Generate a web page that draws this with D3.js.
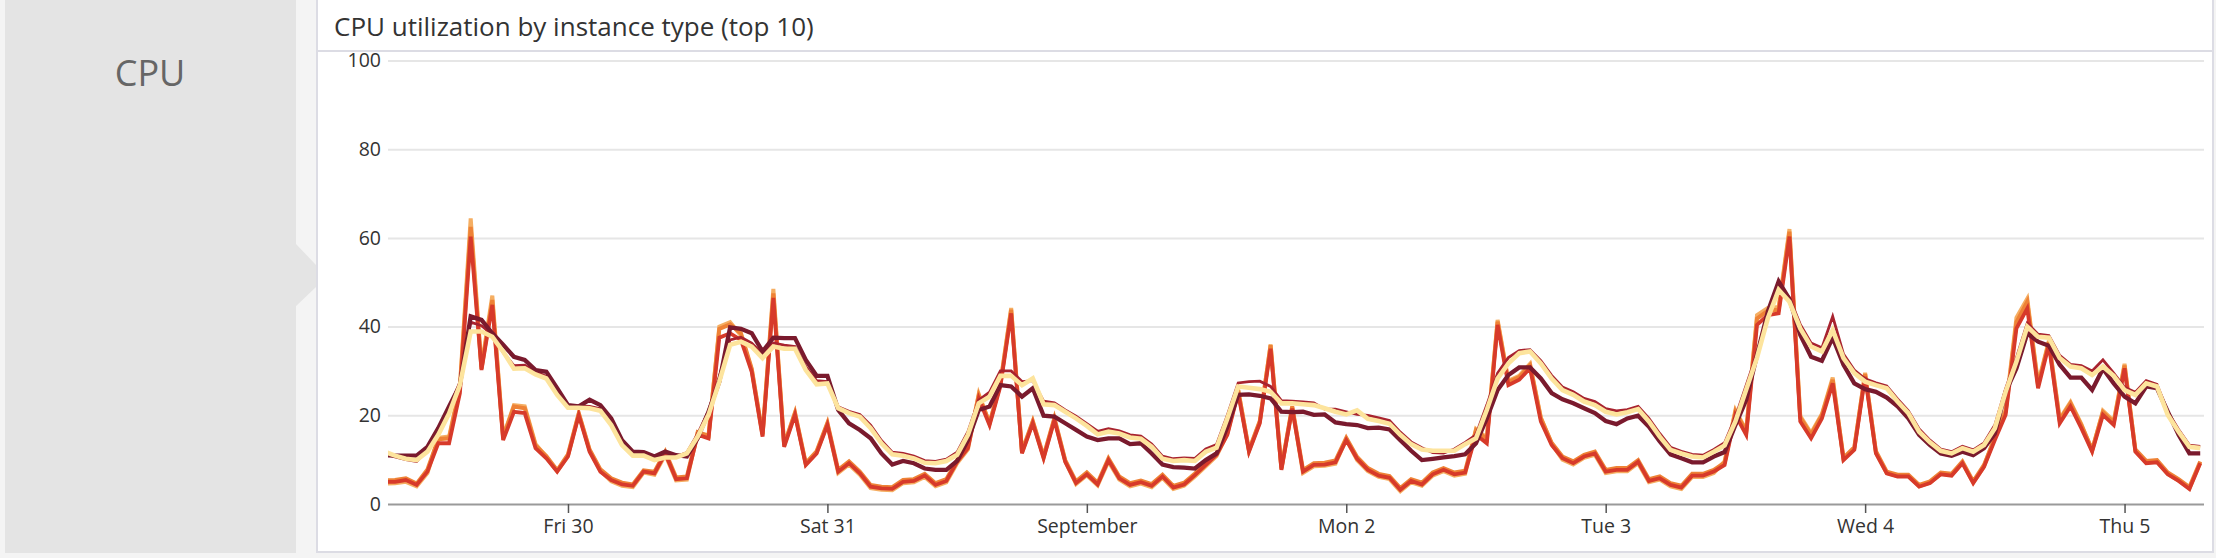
<!DOCTYPE html>
<html>
<head>
<meta charset="utf-8">
<script src="https://cdn.jsdelivr.net/npm/d3@7"></script>
<style>
  html, body { margin: 0; padding: 0; background: #f4f4f4; }
  svg { display: block; font-family: "Open Sans", sans-serif; }
</style>
</head>
<body>
<svg id="chart" width="2216" height="558"></svg>
<script>
// ---------------- data ----------------
// hourly samples, starting Thu 29 Aug 2019 07:00, 169 points
const startHour = new Date(2019, 7, 29, 7, 0);
const domainStart = new Date(2019, 7, 29, 7, 21);
const domainEnd = new Date(2019, 8, 5, 7, 21);

const tickDates = [
  new Date(2019, 7, 30), new Date(2019, 7, 31), new Date(2019, 8, 1),
  new Date(2019, 8, 2), new Date(2019, 8, 3), new Date(2019, 8, 4), new Date(2019, 8, 5)
];
const tickLabels = ["Fri 30", "Sat 31", "September", "Mon 2", "Tue 3", "Wed 4", "Thu 5"];
const yTicks = [0, 20, 40, 60, 80, 100];

const seriesNames = ["t2.lightorange", "t2.orange", "t2.red", "m5.crimson", "m5.maroon", "c5.yellow"];
const seriesColors = ["#f5ae62", "#ee8236", "#d73a2a", "#a8232f", "#7a1a2d", "#fde49d"];

const lightOrange = [4.6,4.7,5.0,4.0,7.0,14.9,15.2,26.5,64.4,31,47,15.2,22.3,22,13.5,10.6,7.4,
10.9,20.3,12.1,7.5,5.1,4.1,3.8,7.1,6.6,11.1,5.3,5.5,16,15.2,40,41,38,30.2,15.5,48.5,13.2,20.4,9.0,11.6,18.1,
7.0,8.9,6.6,3.6,3.2,3.1,4.7,4.9,6.1,4.0,4.9,9.2,12.3,24.8,18.1,27.2,44.2,11.6,18.5,10.5,19.2,9.7,4.5,6.5,4.2,9.6,5.5,4.0,4.6,3.8,5.9,3.4,4.1,6.2,8.5,10.8,15.9,25.8,12,18.5,36,7.9,21.8,
7.0,8.5,8.6,9.1,14.6,9.9,7.4,6.1,5.6,2.9,4.9,4.1,6.4,7.4,6.4,6.8,16.9,14.9,41.5,27.8,28.9,31.6,19.5,13.6,10.0,8.9,10.4,11.1,7.0,7.4,7.4,9.2,4.9,5.5,4.0,3.4,6.1,6.1,7.0,9.6,21.2,16.6,
42.6,44.2,44.4,62,19.8,16,20.3,28.5,10.1,12.5,29.6,11.6,7.0,6.3,6.3,4.0,4.8,6.8,6.5,9.3,4.8,8.5,15.2,21.2,42,46.3,27.2,36.8,19.2,23,18,12,21,18.7,31.6,12,9.4,9.6,6.8,5.3,3.5,9.3];

const orange = [5.3,5.4,5.8,4.6,7.8,14.6,14.8,26,62.5,30.5,46,15,22,21.6,13.2,10.8,7.6,
11.2,20.5,12.3,7.8,5.8,4.8,4.4,7.6,7.3,11.8,6.0,6.2,16.2,15.4,39.5,40.5,38.5,30.5,15.8,47.5,13.4,20.6,9.2,11.9,18.3,
7.7,9.6,7.3,4.3,3.9,3.8,5.4,5.6,6.8,4.7,5.6,9.9,13.1,24.5,18.3,27,43.8,11.9,18.7,10.8,19.4,9.9,5.1,7.1,4.8,10.3,6.2,4.7,5.3,4.5,6.6,4.1,4.8,6.9,9.2,11.5,16.1,25.6,12.2,18.7,35.8,8.1,22,
7.7,9.2,9.3,9.8,14.9,10.6,8.1,6.8,6.3,3.6,5.6,4.8,7.1,8.1,7.1,7.5,16.6,14.6,41.1,27.5,28.6,31.3,19.3,13.8,10.7,9.6,11.1,11.8,7.7,8.1,8.1,9.9,5.6,6.2,4.7,4.1,6.8,6.8,7.7,9.3,20.8,16.3,
41.8,43.6,43.8,61.4,19.5,15.6,20,28,10.4,12.8,29.3,11.9,7.3,6.6,6.6,4.3,5.1,7.1,6.8,9.6,5.1,8.8,14.9,20.8,41,45.6,26.8,36.5,18.9,22.7,17.8,12.3,20.7,18.4,31.2,12.3,9.7,9.9,7.1,5.6,3.8,9.6];

const red = [5.0,5.0,5.4,4.3,7.3,13.7,13.7,25,60.3,30.2,44.9,14.4,20.8,20.5,12.6,10.3,7.3,
10.7,20,11.8,7.3,5.4,4.4,4.1,7.3,6.9,11.4,5.6,5.8,15.6,14.8,37.5,38.5,37,29.8,15.2,46.5,12.9,20.1,8.8,11.4,17.8,
7.3,9.2,6.9,3.9,3.5,3.4,5.0,5.2,6.4,4.3,5.2,9.5,12.6,23.8,17.8,26.5,43,11.4,18.2,10.3,18.9,9.5,4.7,6.7,4.4,9.9,5.8,4.3,4.9,4.1,6.2,3.7,4.4,6.5,8.8,11.1,15.6,25,11.8,18.2,35,7.7,21.5,
7.3,8.8,8.9,9.4,14.4,10.2,7.7,6.4,5.9,3.2,5.2,4.4,6.7,7.7,6.7,7.1,15.6,13.7,40.4,26.8,28,30.6,18.6,13.3,10.3,9.2,10.7,11.4,7.3,7.7,7.7,9.5,5.2,5.8,4.3,3.7,6.4,6.4,7.3,8.8,20.1,15.6,
40.4,42.6,43,60.3,18.6,14.8,19.3,27.2,9.9,12.2,28.7,11.4,6.9,6.2,6.2,3.9,4.7,6.7,6.4,9.2,4.7,8.4,14.4,20.1,39.6,44.1,26.1,35.9,18.2,22,17.1,11.8,20.1,17.8,30.6,11.8,9.2,9.4,6.7,5.2,3.4,9.2];

const crimson = [11.5,10.6,10.0,9.6,12.3,16.5,21.5,27.5,41,40.2,38.2,34.2,31.2,31.3,29.8,28.8,25.2,
22.2,22.1,22,21.5,18.5,14,11.3,11.3,10.3,10.8,10.7,11.6,15.8,21,28.8,37,37.6,36.3,33.8,36.3,35.8,35.5,31,27.8,27.6,
21.9,20.9,20.2,17.8,14.3,11.7,11.4,10.8,9.8,9.6,10.1,11.7,16.3,23.4,25.2,30,30,27.6,27.8,23.2,22.8,21.2,19.8,18.1,16.4,17,16.5,15.6,15.3,13.5,10.8,10.2,10.4,10.3,12.4,13.4,20,27.3,27.6,27.7,26.5,23.3,23.2,
23,22.8,21.4,21.4,20.8,20.2,20,19.4,18.8,16.2,14,12.7,11.6,11.5,12.4,13.9,15.6,22.3,29.5,33,34.6,34.8,32.3,29,26.4,25.3,23.8,23.1,21.5,21,21.3,22,19.3,15.9,12.8,11.9,11.2,11,12.3,13.8,19.6,26.8,
34,43,49.5,46.5,40.5,36.3,35.2,42.3,33.8,30.2,28.2,27.3,26.6,23.7,21,16.9,14.4,12.4,11.8,13,12.2,13.8,17.8,26,33,40.8,38.3,38,33.5,31.5,31.2,30,32.5,29.5,26.3,25.2,27.8,27,20.8,16.8,13.3,13];

const maroon = [11.0,10.9,10.9,10.9,12.9,17.1,22,26.8,42.3,41.5,38.5,35.9,33.2,32.5,30.2,29.8,26.1,
22.3,22,23.5,22.3,19.3,14.4,11.8,11.7,10.7,11.8,11.0,10.7,14.8,20.8,27.6,39.8,39.5,38.5,34.4,37.5,37.4,37.4,32.5,28.9,28.9,
21.2,18.2,16.7,14.8,11.4,8.9,9.7,9.2,8.0,7.7,7.7,9.7,14.4,21.2,22,26.8,26.5,24.2,26.1,19.9,19.7,18.2,16.7,15.2,14.4,14.8,14.8,13.5,13.7,11.4,8.9,8.3,8.2,8.0,9.9,11.4,17.4,24.6,24.7,24.4,23.8,20.8,20.7,
20.8,20.1,20.2,18.4,18.0,17.8,17.1,17.2,16.8,14.4,12.0,9.9,10.2,10.5,10.8,11.2,13.7,19.3,25.7,29.1,30.8,30.8,28.3,25,23.6,22.7,21.6,20.5,18.7,18.0,19.3,19.9,17.4,14.1,11.2,10.3,9.4,9.4,10.7,11.7,17.8,23.5,
33.6,43.4,50.2,46.2,38.1,33.2,32.3,37.5,31.4,27.2,25.9,25.3,24,22,19.3,15.6,13.3,11.4,10.9,11.8,11.0,12.6,15.9,25.3,30.6,38.5,36.6,35.7,31.4,28.5,28.5,25.7,30.5,27.2,24.2,22.7,26.5,26.1,20.8,15.6,11.4,11.4];

const yellow = [11.8,10.9,10.2,9.9,11.8,15.6,20.4,26.8,38.9,38.9,37.7,34.4,30.5,30.6,29.2,28.3,24.6,
21.7,21.7,21.6,21,17.8,13.3,10.9,10.9,9.9,10.5,10.5,11.4,15.2,20.1,27.6,35.9,36.6,35.5,32.9,35.5,35,35,30.2,27,27.2,
21.6,20.5,19.7,17.1,13.7,11.2,10.9,10.3,9.3,9.2,9.7,11.1,15.6,22.7,24.2,28.9,28.9,26.8,28.3,22.5,22.3,20.8,19.3,17.6,15.7,16.3,15.9,15.0,14.7,12.9,10.2,9.7,9.9,9.7,11.8,12.7,19.3,26.5,26.2,25.9,25.3,22.7,22.7,
22.5,22.3,21.6,20.8,20.2,21.1,19.2,18.7,18.1,15.6,13.5,12.3,12.0,12.0,12.0,13.5,14.8,21.2,28.3,31.7,34,34.4,31.7,28.3,25.7,24.6,23.1,22.3,20.8,20.2,20.7,21.4,18.6,15.2,12.2,11.4,10.7,10.5,11.8,13.2,18.6,25.8,
33,41.9,48.3,45.6,39.6,35.5,34.4,39.2,32.9,29.5,27.6,26.8,26.1,23.1,20.5,16.3,13.9,12.0,11.4,12.6,11.8,13.3,17.1,25.3,32.1,40,37.7,37.5,32.9,31,30.6,29.1,31,28.9,25.7,24.6,27.2,26.5,20.1,16.3,12.9,12.6];

const seriesValues = [lightOrange, orange, red, crimson, maroon, yellow];
const seriesWidths = [4, 4, 3.8, 2.8, 4.3, 4.6];

// ---------------- layout ----------------
const svg = d3.select("#chart");
const plotLeft = 388, plotRight = 2204, plotTop = 60.5, plotBottom = 504;

// left grey section
svg.append("rect").attr("x", 5).attr("y", -2).attr("width", 291).attr("height", 555)
  .attr("fill", "#e4e4e4");
svg.append("polygon").attr("points", "295,243 316,265 316,287 295,307").attr("fill", "#e4e4e4");
svg.append("text").attr("x", 150).attr("y", 86).attr("text-anchor", "middle")
  .attr("font-size", 36).attr("fill", "#666").text("CPU");

// chart panel
svg.append("rect").attr("x", 317).attr("y", -4).attr("width", 1896).attr("height", 556)
  .attr("fill", "#fff").attr("stroke", "#dcdce4").attr("stroke-width", 2);
svg.append("line").attr("x1", 318).attr("x2", 2212).attr("y1", 51).attr("y2", 51)
  .attr("stroke", "#dcdce4").attr("stroke-width", 2);
svg.append("text").attr("x", 334).attr("y", 36).attr("font-size", 26).attr("fill", "#333")
  .text("CPU utilization by instance type (top 10)");

// scales
const x = d3.scaleTime().domain([domainStart, domainEnd]).range([plotLeft, plotRight]);
const y = d3.scaleLinear().domain([0, 100]).range([plotBottom, plotTop]);

// y grid + labels
const yAxis = d3.axisLeft(y).tickValues(yTicks).tickSize(-(plotRight - plotLeft)).tickPadding(7);
const gy = svg.append("g").attr("transform", `translate(${plotLeft},0)`).call(yAxis);
gy.select(".domain").remove();
gy.selectAll(".tick line").attr("stroke", d => d === 0 ? "#9a9a9a" : "#e6e6e6").attr("stroke-width", 2);
gy.selectAll(".tick text").attr("font-size", 19.5).attr("fill", "#333")
  .attr("font-family", "Open Sans, sans-serif");

// x axis
const xAxis = d3.axisBottom(x).tickValues(tickDates).tickSize(9).tickPadding(6)
  .tickFormat((d, i) => tickLabels[i]);
const gx = svg.append("g").attr("transform", `translate(0,${plotBottom})`).call(xAxis);
gx.select(".domain").remove();
gx.selectAll(".tick line").attr("stroke", "#555").attr("stroke-width", 1.5);
gx.selectAll(".tick text").attr("font-size", 19.5).attr("fill", "#333")
  .attr("font-family", "Open Sans, sans-serif");

// clip
svg.append("clipPath").attr("id", "plotclip").append("rect")
  .attr("x", plotLeft).attr("y", 0).attr("width", plotRight - plotLeft).attr("height", 558);

const line = d3.line()
  .x((d, i) => x(d3.timeHour.offset(startHour, i)))
  .y(d => y(d));

const gl = svg.append("g").attr("clip-path", "url(#plotclip)");
seriesValues.forEach((vals, k) => {
  gl.append("path")
    .datum(vals)
    .attr("d", line)
    .attr("fill", "none")
    .attr("stroke", seriesColors[k])
    .attr("stroke-width", seriesWidths[k])
    .attr("data-name", seriesNames[k]);
});
</script>
</body>
</html>
